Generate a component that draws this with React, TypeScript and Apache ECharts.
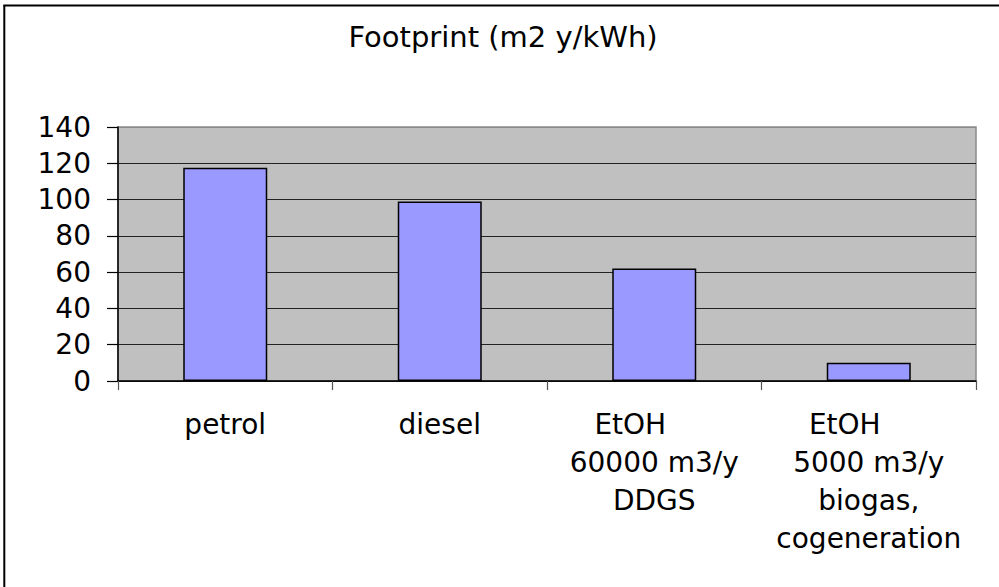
import React, { useEffect, useRef } from 'react';
import * as echarts from 'echarts';

const chartTitle = 'Footprint (m2 y/kWh)';
const categories = [
  'petrol',
  'diesel',
  'EtOH\n60000 m3/y\nDDGS',
  'EtOH\n5000 m3/y\nbiogas,\ncogeneration',
];
const footprint = [117.5, 99, 62, 10];
const yMin = 0;
const yMax = 140;
const yStep = 20;

const FONT = 'DejaVu Sans';

export default function App() {
  const ref = useRef<HTMLDivElement>(null);
  useEffect(() => {
    if (!ref.current) return;
    const chart = echarts.init(ref.current, undefined, { renderer: 'svg' });
    const richBase = { fontFamily: FONT, fontSize: 28, lineHeight: 38, color: '#000', align: 'center' as const };
    chart.setOption({
      animation: false,
      backgroundColor: '#fff',
      title: {
        text: chartTitle,
        left: 503,
        top: 22,
        padding: 0,
        textAlign: 'center',
        textStyle: { fontFamily: FONT, fontSize: 29, fontWeight: 'normal', color: '#000' },
      },
      graphic: [
        { type: 'line', shape: { x1: 4.3, y1: 5.5, x2: 4.3, y2: 600 }, style: { stroke: '#000', lineWidth: 2 } },
        { type: 'line', shape: { x1: 3.3, y1: 5.5, x2: 1010, y2: 5.5 }, style: { stroke: '#000', lineWidth: 2 } },
      ],
      grid: {
        left: 118,
        top: 127,
        right: 23,
        bottom: 206,
        show: true,
        backgroundColor: '#C0C0C0',
        borderColor: '#8a8a8a',
        borderWidth: 1.5,
      },
      xAxis: {
        type: 'category',
        data: categories,
        boundaryGap: true,
        axisLine: { show: true, lineStyle: { color: '#000', width: 1.5 } },
        axisTick: { show: true, length: 9, interval: 0, alignWithLabel: false, lineStyle: { color: '#555', width: 1.2 } },
        axisLabel: {
          interval: 0,
          margin: 24,
          color: '#000',
          fontFamily: FONT,
          fontSize: 28,
          lineHeight: 38,
          formatter: (v: string) => {
            const lines = v.split('\n');
            return lines
              .map((l, i) => (i === 0 && lines.length > 1 ? `{t|${l}}{sp| }` : `{t|${l}}`))
              .join('\n');
          },
          rich: {
            t: richBase,
            sp: { ...richBase, width: 48 },
          },
        },
        splitLine: { show: false },
      },
      yAxis: {
        type: 'value',
        min: yMin,
        max: yMax,
        interval: yStep,
        axisLine: { show: true, lineStyle: { color: '#000', width: 1.5 } },
        axisTick: { show: true, length: 11, lineStyle: { color: '#000', width: 1.2 } },
        axisLabel: { margin: 27, color: '#000', fontFamily: FONT, fontSize: 28 },
        splitLine: {
          show: true,
          lineStyle: {
            color: ['#222', '#222', '#222', '#222', '#222', '#222', '#222', '#8a8a8a'],
            width: 1.2,
          },
        },
      },
      series: [
        {
          type: 'bar',
          data: footprint,
          barWidth: 84,
          itemStyle: { color: '#9999FF', borderColor: '#000', borderWidth: 1.5 },
        },
      ],
    });
    return () => chart.dispose();
  }, []);
  return <div ref={ref} style={{ position: 'fixed', left: 0, top: 0, width: 999, height: 587 }} />;
}
